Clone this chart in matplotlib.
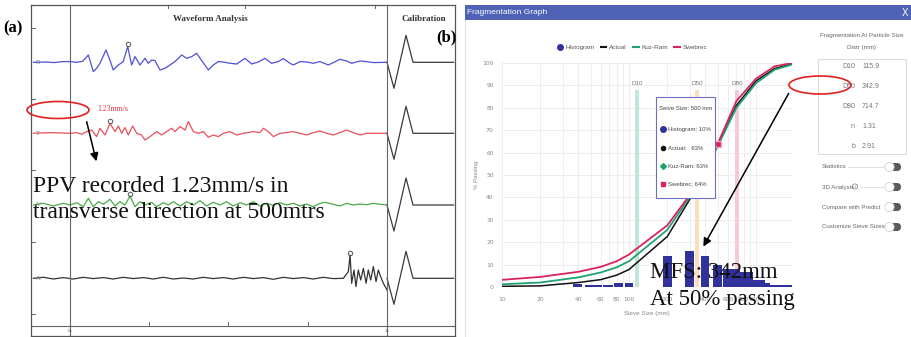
import numpy as np
import matplotlib.pyplot as plt
from matplotlib.patches import Ellipse, Rectangle, FancyBboxPatch, Circle
from matplotlib.lines import Line2D

plt.rcParams['font.family'] = ['DejaVu Sans']
SERIF = ['Liberation Serif', 'DejaVu Serif']
UI = ['Liberation Sans', 'DejaVu Sans']

# ---------------- (a) waveform analysis: (time s, deflection) per channel ----------------
wave_R = [(-0.231, 0), (-0.15, 0.3), (-0.10, -0.3), (-0.05, 0.7), (0.0, 0.7), (0.04, 0), (0.08, 1),
          (0.116, 7.3), (0.147, -9.3), (0.168, -6), (0.189, -1), (0.227, 12.3), (0.252, 2.3),
          (0.273, -7.7), (0.305, -2.7), (0.336, 0.7), (0.364, 15.7), (0.389, -2.7), (0.410, 5.7),
          (0.442, -2.7), (0.473, 4), (0.494, -1), (0.515, 2.3), (0.536, 1.7), (0.568, -7.7),
          (0.599, -6), (0.631, -2.7), (0.662, 0.7), (0.705, 7.3), (0.736, 4), (0.768, 5.7),
          (0.799, 9), (0.831, 1.7), (0.873, -7.7), (0.904, -2.7), (0.936, 0.7), (0.967, 0.3),
          (1.009, -1), (1.052, -1.7), (1.104, 4), (1.146, -1.7), (1.188, 0.3), (1.230, 4),
          (1.272, -1), (1.314, 0.7), (1.346, 3.7), (1.388, -1), (1.409, -2.7), (1.451, 0.7),
          (1.493, 0.3), (1.535, -1), (1.577, 0.7), (1.630, -2.7), (1.661, -0.3), (1.703, 3),
          (1.746, 1.3), (1.777, -1), (1.830, 1.3), (1.872, 0.7), (1.914, -0.3), (2.0, 0)]
wave_T = [(-0.231, 0), (-0.126, 0.7), (0.0, 0), (0.042, 0.7), (0.074, -1), (0.105, 1.7),
          (0.137, 3.3), (0.168, -3.3), (0.189, 5), (0.221, -1.7), (0.252, 10), (0.284, 1.7),
          (0.305, 7.3), (0.326, 0), (0.347, 5.7), (0.368, -1.7), (0.395, 7.3), (0.421, 0),
          (0.452, -1.7), (0.473, -6.7), (0.505, -3.3), (0.547, 1.7), (0.578, -1.7), (0.610, 1.7),
          (0.641, 5), (0.662, 1.7), (0.694, 6.7), (0.726, 3.3), (0.747, 11.7), (0.778, 1.7),
          (0.810, 0), (0.841, 1.7), (0.873, -4), (0.904, -1.7), (0.936, -3.3), (0.967, 0),
          (1.009, 1.7), (1.052, -1.7), (1.094, 0), (1.157, 1.7), (1.199, 0.7), (1.220, 5),
          (1.251, 1.7), (1.283, -3.3), (1.325, 0), (1.367, 0.7), (1.409, 1.7), (1.451, 0),
          (1.493, -1.7), (1.535, 0.7), (1.577, 2.3), (1.619, 0), (1.661, -1.7), (1.703, 0.7),
          (1.746, 3.3), (1.788, 0.7), (1.830, -1.7), (1.872, 0), (1.914, 0), (2.0, 0)]
wave_V = [(-0.231, 0), (-0.168, 1.7), (-0.105, -1), (-0.042, 1.7), (0.0, 0), (0.042, 2.3),
          (0.084, -1.7), (0.116, 6.7), (0.147, -1.7), (0.179, 3.3), (0.210, 0.7), (0.252, 5.7),
          (0.284, -1), (0.315, 3.3), (0.347, 0), (0.379, 9), (0.410, -1.7), (0.442, 3.3),
          (0.473, 0), (0.515, 2.7), (0.547, -1.7), (0.589, 2.3), (0.620, 0), (0.652, 3.3),
          (0.694, -1), (0.736, 3.3), (0.778, 0), (0.820, 4.3), (0.862, -1), (0.904, 2.7),
          (0.946, 0), (0.988, 3.3), (1.030, -1), (1.073, 2.3), (1.115, 0), (1.157, 3.3),
          (1.199, -1), (1.241, 1.7), (1.283, -0.3), (1.325, 2.3), (1.367, 0), (1.409, 1.7),
          (1.451, -1), (1.493, 1), (1.535, -1.7), (1.577, 1.7), (1.609, 2.7), (1.661, 0.7),
          (1.703, -1), (1.746, 1.7), (1.788, 0), (1.830, 1), (1.872, 0.3), (1.914, 1.7),
          (1.956, 0.7), (2.0, 0)]
wave_A = [(-0.231, 0), (-0.168, 1), (-0.105, -0.7), (-0.042, 0.7), (0.021, -0.7), (0.084, 1),
          (0.147, -0.3), (0.210, 0.7), (0.273, -0.7), (0.336, 1), (0.400, -0.3), (0.463, 0.7),
          (0.526, -0.7), (0.589, 1), (0.652, -0.7), (0.715, 0.3), (0.778, -0.7), (0.841, 1),
          (0.904, -0.3), (0.967, 0.7), (1.030, -0.7), (1.094, 1), (1.157, -0.3), (1.220, 0.7),
          (1.283, -1), (1.346, 1), (1.409, -0.3), (1.472, 0.7), (1.535, -0.7), (1.598, 1),
          (1.661, -0.3), (1.725, 0), (1.756, 6.7), (1.767, 23.3), (1.777, -5), (1.792, 8.3),
          (1.804, -8.3), (1.819, 8.3), (1.834, -1.7), (1.851, 10), (1.868, -5), (1.882, 8.3),
          (1.897, -1.7), (1.914, 11.7), (1.931, -3.3), (1.945, 8.3), (1.960, 1.7), (1.977, -5),
          (2.0, -11.7)]
calib = [(2.0, 0), (2.044, -26), (2.120, 27), (2.164, 0), (2.42, 0)]
channels = ['R', 'T', 'V', 'A']
peak_times = {'R': 0.364, 'T': 0.252, 'V': 0.379, 'A': 1.767}

# ---------------- (b) fragmentation graph ----------------
sieve_mm = [10, 20, 40, 60, 80, 100, 200, 300, 500, 700, 1000, 1400, 1920]
pass_swebrec = [3.2, 4.5, 6.8, 9, 11.5, 14.5, 27.5, 41, 64, 83, 93, 98.5, 100]
pass_kuzram = [1.2, 2, 4.3, 6.5, 8.8, 11.5, 25.5, 40, 63, 80, 91, 97, 99.3]
pass_actual = [0.3, 0.5, 2, 3.3, 5.3, 7.8, 22.5, 39, 63, 81, 92, 97.5, 99.6]
hist_left = [36, 45, 62, 76, 93, 185, 276, 369, 458, 550, 748, 946, 1178, 1288]
hist_right = [43, 61, 75, 90, 108, 218, 325, 427, 540, 748, 946, 1178, 1288, 1920]
hist_pct = [1.2, 0.8, 0.8, 1.8, 1.8, 14, 16, 14, 10, 8, 6.5, 3.3, 1.8, 0.7]
d_names = ['D10', 'D50', 'D80']
d_values = [115.9, 342.9, 714.7]
n_value, b_value = 1.31, 2.91
tooltip_size = 500
x_ticks = [10, 20, 40, 60, 80, 100, 200, 400, 600, 800, 1000]

W, H = 912, 337
fig = plt.figure(figsize=(9.12, 3.37), dpi=100)


def rect(x0, y0, x1, y1):
    return [x0 / W, 1 - y1 / H, (x1 - x0) / W, (y1 - y0) / H]


# ======== panel (a) ========
ax_a = fig.add_axes(rect(31, 5, 455, 336))
ax_a.set_xlim(-0.246, 2.429)
ax_a.set_ylim(336, 5)
ax_a.set_xticks([]); ax_a.set_yticks([])
for s in ax_a.spines.values():
    s.set_color('#555555'); s.set_linewidth(0.9)

base = {'R': 62.3, 'T': 133.3, 'V': 205, 'A': 278.3}
colors = {'R': '#4f4fd8', 'T': '#e8505e', 'V': '#4aaa4a', 'A': '#333333'}
waves = {'R': wave_R, 'T': wave_T, 'V': wave_V, 'A': wave_A}
ct, ca = np.array(calib).T
for ch in channels:
    t, a = np.array(waves[ch]).T
    ax_a.plot(t, base[ch] - a, color=colors[ch], lw=0.9)
    ax_a.plot(ct, base[ch] - ca, color='#3a3a3a', lw=0.9)
    i = np.argmin(np.abs(t - peak_times[ch]))
    ax_a.plot(t[i], base[ch] - a[i] - 2.5, 'o', ms=3.2, mfc='none', mec='#555555', mew=0.7)
    ax_a.text(-0.215, base[ch], ch, fontsize=5, color='#777777', va='center', family=SERIF)

ax_a.axvline(0, color='#666666', lw=0.8)
ax_a.axvline(2, color='#666666', lw=0.8)
ax_a.axhline(326, color='#666666', lw=0.8)
for tk in [0.5, 1.0, 1.5]:
    ax_a.plot([tk, tk], [326, 322], color='#666666', lw=0.7)
for yk in [28, 99, 170, 242, 314]:
    ax_a.plot([-0.246, -0.22], [yk, yk], color='#666666', lw=0.7)
for tk in [0.618, 1.104, 1.924]:
    ax_a.plot([tk, tk], [5, 8], color='#666666', lw=0.7)
ax_a.text(0, 331, '0s', fontsize=3.8, ha='center', va='center', color='#555555', family=SERIF)
ax_a.text(2, 331, '2s', fontsize=3.8, ha='center', va='center', color='#555555', family=SERIF)

# ======== panel (b) chart ========
ax_b = fig.add_axes(rect(502, 63, 792, 287))
ax_b.set_xscale('log')
ax_b.set_xlim(10, 1920)
ax_b.set_ylim(0, 100)
for s in ax_b.spines.values():
    s.set_visible(False)
ax_b.set_yticks(range(0, 101, 10))
ax_b.set_xticks(x_ticks)
ax_b.set_xticklabels([str(v) for v in x_ticks])
ax_b.xaxis.set_minor_locator(plt.matplotlib.ticker.LogLocator(base=10, subs=range(1, 10)))
ax_b.xaxis.set_minor_formatter(plt.NullFormatter())
ax_b.tick_params(which='both', length=0, labelsize=4.3, labelcolor='#8a8a8a')
ax_b.tick_params(axis='x', pad=7)
ax_b.tick_params(axis='y', pad=6)
ax_b.grid(True, which='both', color='#ebebeb', lw=0.6)
ax_b.set_axisbelow(True)

d_cols = ['#bfe8d4', '#fbdcbc', '#f6c9d6']
for name, v, c in zip(d_names, d_values, d_cols):
    ax_b.plot([v, v], [0, 87], color=c, lw=2.8, zorder=1)
    ax_b.text(v, 91, name, fontsize=4.5, color='#777777', ha='center', va='center', family=UI)

widths = [r - l for l, r in zip(hist_left, hist_right)]
ax_b.bar(hist_left, hist_pct, width=widths, align='edge', color='#30319b', zorder=2)
ax_b.plot(sieve_mm, pass_actual, color='#111111', lw=1.1, zorder=3)
ax_b.plot(sieve_mm, pass_kuzram, color='#1fa36e', lw=1.3, zorder=3)
ax_b.plot(sieve_mm, pass_swebrec, color='#d8235e', lw=1.3, zorder=3)
k = sieve_mm.index(tooltip_size)
ax_b.plot(tooltip_size, pass_swebrec[k], 's', ms=5, color='#d8235e', mec='#f1a9bf', mew=1, zorder=4)

handles = [Line2D([], [], marker='o', ls='none', color='#30319b', ms=4),
           Line2D([], [], color='#111111', lw=1.5),
           Line2D([], [], color='#1fa36e', lw=1.5),
           Line2D([], [], color='#d8235e', lw=1.5)]
leg = fig.legend(handles, ['Histogram', 'Actual', 'Kuz-Ram', 'Swebrec'], loc='center',
                 bbox_to_anchor=(632 / W, 1 - 47 / H), ncol=4, frameon=False,
                 prop={'size': 4.6, 'family': UI}, handlelength=0.9, columnspacing=1.0,
                 handletextpad=0.4)
for tx in leg.get_texts():
    tx.set_color('#555555')

# ======== overlay (pixel coordinates) ========
ov = fig.add_axes([0, 0, 1, 1], facecolor='none')
ov.set_xlim(0, W); ov.set_ylim(H, 0); ov.axis('off')

# panel (a) texts
ov.text(3, 28, '(a)', fontsize=12, fontweight='bold', family=SERIF, va='center')
ov.text(436, 37, '(b)', fontsize=12, fontweight='bold', family=SERIF, va='center')
ov.text(210, 19, 'Waveform Analysis', fontsize=6.5, fontweight='bold', family=SERIF,
        ha='center', va='center', color='#333333')
ov.text(424, 19, 'Calibration', fontsize=6.5, fontweight='bold', family=SERIF,
        ha='center', va='center', color='#333333')
ov.add_patch(Ellipse((58, 110), 62, 17, fill=False, ec='#e02020', lw=1.2))
ov.text(97, 109, '1.23mm/s', fontsize=5.5, family=SERIF, color='#e03040', va='center')
ov.annotate('', xy=(97, 164), xytext=(86, 119),
            arrowprops=dict(arrowstyle='-|>', color='black', lw=1.1, mutation_scale=12))
ov.text(33, 187, 'PPV recorded 1.23mm/s in', fontsize=17, family=SERIF, va='center', color='#111111')
ov.text(33, 213, 'transverse direction at 500mtrs', fontsize=17, family=SERIF, va='center',
        color='#111111')

# panel (b) frame
ov.add_patch(Rectangle((465, 5), 447, 15, color='#4f62b5', lw=0))
ov.text(467, 12.5, 'Fragmentation Graph', fontsize=6, color='white', va='center', family=UI)
ov.text(905, 12.5, 'X', fontsize=7, color='white', va='center', ha='center', family=UI)
ov.plot([465, 465], [20, 337], color='#e4e4e4', lw=0.8)
ov.text(477, 175, '% Passing', fontsize=4.3, color='#888888', rotation=90, ha='center',
        va='center', family=UI)
ov.text(647, 314, 'Sieve Size (mm)', fontsize=4.5, color='#888888', ha='center', va='center',
        family=UI)

# tooltip
hist_at = next(h for l, r, h in zip(hist_left, hist_right, hist_pct) if l <= tooltip_size < r)
ov.add_patch(Rectangle((656, 97), 59, 101, fc='white', ec='#6d6dc4', lw=0.8, zorder=5))
ov.text(659, 109, f'Seive Size: {tooltip_size} mm', fontsize=4.3, color='#444444', va='center',
        family=UI, zorder=6)
tip_rows = [('o', '#30319b', f'Histogram: {hist_at:.0f}%'),
            ('o', '#111111', f'Actual:   {pass_actual[k]:.0f}%'),
            ('D', '#1fa36e', f'Kuz-Ram: {pass_kuzram[k]:.0f}%'),
            ('s', '#d8235e', f'Swebrec: {pass_swebrec[k]:.0f}%')]
for (mk, c, label), yy in zip(tip_rows, [129, 148, 166, 184]):
    ov.plot(663, yy, mk, color=c, ms=4 if mk == 'o' and c == '#30319b' else 3, zorder=6)
    ov.text(668, yy, label, fontsize=4.3, color='#444444', va='center', family=UI, zorder=6)

# side panel
ov.text(862, 36, 'Fragmentation AI Particle Size', fontsize=4.5, color='#666666', ha='center',
        va='center', family=UI)
ov.text(862, 48, 'Distr (mm)', fontsize=4.5, color='#666666', ha='center', va='center', family=UI)
ov.add_patch(Rectangle((818, 59), 88, 95, fc='white', ec='#dddddd', lw=0.8))
rows = list(zip(d_names, [f'{v:.1f}' for v in d_values])) + [('n', f'{n_value:.2f}'),
                                                           ('b', f'{b_value:.2f}')]
for (lab, val), yy in zip(rows, [67, 86, 106, 126, 146]):
    ov.text(855, yy, lab, fontsize=5, color='#777777', ha='right', va='center', family=UI)
    ov.text(862, yy, val, fontsize=5, color='#777777', ha='left', va='center', family=UI)

toggles = ['Statistics', '3D Analysis', 'Compare with Predict', 'Customize Sieve Sizes']
for lab, yy in zip(toggles, [167, 187, 207, 227]):
    ov.text(822, yy, lab, fontsize=4.4, color='#666666', va='center', family=UI)
    ov.add_patch(FancyBboxPatch((889, yy - 4), 12, 8, boxstyle='round,pad=0,rounding_size=4',
                                fc='#5b5b5b', ec='none'))
    ov.add_patch(Circle((889.5, yy), 4.6, fc='white', ec='#d4d4d4', lw=0.6))
ov.plot([848, 884], [167, 167], color='#dddddd', lw=0.6)
ov.plot([861, 884], [187, 187], color='#dddddd', lw=0.6)
ov.add_patch(Circle((855, 186.5), 2.6, fill=False, ec='#777777', lw=0.5))
ov.text(855, 186.5, 'i', fontsize=3.2, color='#777777', ha='center', va='center')

# annotations on (b)
ov.add_patch(Ellipse((820, 85), 62, 18, fill=False, ec='#e02020', lw=1.2, zorder=7))
ov.annotate('', xy=(702, 249), xytext=(790, 91),
            arrowprops=dict(arrowstyle='-|>', color='black', lw=1.1, mutation_scale=12), zorder=7)
ov.text(650, 272, 'MFS: 342mm', fontsize=16.5, family=SERIF, va='center', color='#111111', zorder=7)
ov.text(650, 300, 'At 50% passing', fontsize=16.5, family=SERIF, va='center', color='#111111',
        zorder=7)

fig.savefig('out.png', dpi=100)
